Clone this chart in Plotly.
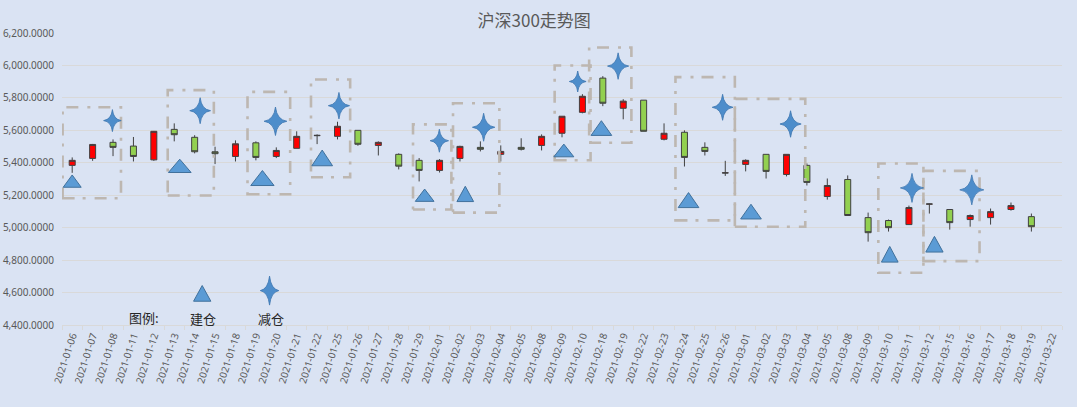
import plotly.graph_objects as go

# ---------------- data ----------------
dates = ["2021-01-06", "2021-01-07", "2021-01-08", "2021-01-11", "2021-01-12", "2021-01-13",
         "2021-01-14", "2021-01-15", "2021-01-18", "2021-01-19", "2021-01-20", "2021-01-21",
         "2021-01-22", "2021-01-25", "2021-01-26", "2021-01-27", "2021-01-28", "2021-01-29",
         "2021-02-01", "2021-02-02", "2021-02-03", "2021-02-04", "2021-02-05", "2021-02-08",
         "2021-02-09", "2021-02-10", "2021-02-18", "2021-02-19", "2021-02-22", "2021-02-23",
         "2021-02-24", "2021-02-25", "2021-02-26", "2021-03-01", "2021-03-02", "2021-03-03",
         "2021-03-04", "2021-03-05", "2021-03-08", "2021-03-09", "2021-03-10", "2021-03-11",
         "2021-03-12", "2021-03-15", "2021-03-16", "2021-03-17", "2021-03-18", "2021-03-19",
         "2021-03-22"]

open_ = [5384, 5427, 5526, 5503, 5418, 5606, 5557, 5468, 5439, 5523, 5439, 5489,
         5567, 5563, 5600, 5507, 5452, 5415, 5353, 5427, 5495, 5452, 5495, 5507,
         5582, 5711, 5922, 5736, 5786, 5545, 5588, 5495, 5337, 5390, 5452, 5328,
         5384, 5192, 5297, 5062, 5044, 5019, 5145, 5112, 5050, 5062, 5112, 5068, None]
high = [5433, 5516, 5544, 5559, 5596, 5643, 5570, 5499, 5538, 5532, 5495, 5594,
        5575, 5653, 5600, 5532, 5458, 5429, 5423, 5505, 5532, 5507, 5551, 5575,
        5687, 5823, 5934, 5792, 5786, 5643, 5600, 5526, 5412, 5421, 5452, 5452,
        5396, 5303, 5322, 5093, 5050, 5136, 5148, 5113, 5081, 5118, 5155, 5087, None]
low = [5338, 5412, 5441, 5408, 5412, 5532, 5458, 5392, 5408, 5415, 5429, 5489,
       5515, 5544, 5505, 5445, 5359, 5285, 5340, 5408, 5470, 5408, 5476, 5476,
       5557, 5705, 5749, 5668, 5594, 5538, 5377, 5445, 5319, 5347, 5303, 5316,
       5260, 5173, 5074, 4914, 4976, 5019, 5087, 4988, 5006, 5019, 5105, 4976, None]
close = [5415, 5513, 5495, 5439, 5594, 5573, 5468, 5456, 5517, 5433, 5476, 5563,
         5569, 5625, 5514, 5526, 5379, 5353, 5415, 5501, 5483, 5470, 5483, 5563,
         5687, 5810, 5767, 5780, 5594, 5582, 5433, 5470, 5338, 5415, 5347, 5452,
         5279, 5260, 5075, 4969, 5000, 5124, 5146, 5031, 5075, 5099, 5136, 5006, None]

# 建仓 (triangle) markers: position (category units) and value
build_x = [0.0, 5.27, 9.32, 12.25, 17.27, 19.26, 24.09, 25.93, 30.2, 33.26, 40.06, 42.25]
build_y = [5287, 5381, 5306, 5430, 5200, 5208, 5476, 5614, 5170, 5099, 4836, 4898]

# 减仓 (star) markers: position and value
reduce_x = [1.97, 6.27, 9.96, 13.07, 17.99, 20.16, 24.77, 26.75, 31.87, 35.2, 41.15, 44.08]
reduce_y = [5660, 5721, 5656, 5752, 5536, 5619, 5901, 5996, 5742, 5639, 5245, 5233]

# dashed group boxes
box_x0 = [-0.47, 4.68, 8.59, 11.7, 16.7, 18.66, 23.64, 25.33, 29.56, 32.47, 39.5, 41.71]
box_x1 = [2.39, 6.94, 10.68, 13.62, 18.58, 20.93, 25.4, 27.4, 32.47, 35.92, 41.71, 44.46]
box_y0 = [5181, 5198, 5206, 5311, 5112, 5093, 5416, 5523, 5045, 5006, 4722, 4794]
box_y1 = [5742, 5848, 5837, 5913, 5637, 5767, 6000, 6111, 5928, 5794, 5396, 5350]

# in-chart legend
legend_labels = ["图例:", "建仓", "减仓"]
legend_label_x = [3.5, 6.39, 9.74]
legend_label_y = [4448, 4440, 4440]
legend_build_xy = (6.37, 4595)
legend_reduce_xy = (9.67, 4612)

title_text = "沪深300走势图"

# ---------------- styles (glyph sizes in px) ----------------
tri_w = [18, 22.7, 23.3, 20.7, 18.7, 16.7, 20, 20.7, 20.7, 20.7, 16.7, 17.3]
tri_h = [12.3, 13.3, 15, 15.7, 12.3, 15.3, 12.7, 14.7, 15, 14.7, 15.7, 15.7]
legend_tri_wh = (17.3, 15.7)
star_h = [22, 26, 28.5, 26.5, 23, 28, 21, 26.5, 26, 26.5, 29, 30]
legend_star_h = 29

xs = list(range(len(dates)))
BG = "#DAE3F3"
TRI_FILL = "#5B9BD5"
TRI_LINE = "#41719C"
STAR_FILL = "#4D8DCB"
STAR_LINE = "#3E76B0"


def star_path(height, aspect=0.8):
    h = height / 2.0
    w = h * aspect
    c = h * 0.1
    return (f"M0,{h:.2f} Q{c:.2f},{c:.2f} {w:.2f},0 Q{c:.2f},{-c:.2f} 0,{-h:.2f} "
            f"Q{-c:.2f},{-c:.2f} {-w:.2f},0 Q{-c:.2f},{c:.2f} 0,{h:.2f} Z")


def tri_path(w, h):
    return f"M{-w/2:.2f},{-h/2:.2f} L{w/2:.2f},{-h/2:.2f} L0,{h/2:.2f} Z"


fig = go.Figure()

fig.add_trace(go.Candlestick(
    x=xs, open=open_, high=high, low=low, close=close,
    increasing=dict(fillcolor="#FF0000", line=dict(color="#404040", width=1)),
    decreasing=dict(fillcolor="#92D050", line=dict(color="#404040", width=1)),
    whiskerwidth=0, showlegend=False, hoverinfo="skip",
))

for x0, x1, y0, y1 in zip(box_x0, box_x1, box_y0, box_y1):
    fig.add_shape(type="rect", xref="x", yref="y", x0=x0, x1=x1, y0=y0, y1=y1,
                  line=dict(color="#BDB7B1", width=2.6, dash="12px,8px,3px,9px"),
                  fillcolor="rgba(0,0,0,0)", layer="above")

tx = build_x + [legend_build_xy[0]]
ty = build_y + [legend_build_xy[1]]
tw = tri_w + [legend_tri_wh[0]]
th = tri_h + [legend_tri_wh[1]]
for px, py, w, h in zip(tx, ty, tw, th):
    fig.add_shape(type="path", xref="x", yref="y", xsizemode="pixel", ysizemode="pixel",
                  xanchor=px, yanchor=py, path=tri_path(w, h),
                  fillcolor=TRI_FILL, line=dict(color=TRI_LINE, width=1), layer="above")

sx_all = reduce_x + [legend_reduce_xy[0]]
sy_all = reduce_y + [legend_reduce_xy[1]]
sh_all = star_h + [legend_star_h]
for i, (sx, sy, sh) in enumerate(zip(sx_all, sy_all, sh_all)):
    aspect = 0.64 if i == len(sx_all) - 1 else 0.8
    fig.add_shape(type="path", xref="x", yref="y", xsizemode="pixel", ysizemode="pixel",
                  xanchor=sx, yanchor=sy, path=star_path(sh, aspect),
                  fillcolor=STAR_FILL, line=dict(color=STAR_LINE, width=0.8), layer="above")

for lx, ly, lt in zip(legend_label_x, legend_label_y, legend_labels):
    fig.add_annotation(x=lx, y=ly, xref="x", yref="y", text=lt, showarrow=False,
                       font=dict(family="Noto Sans CJK SC", size=13, color="#262626"))

fig.update_layout(
    width=1077, height=407,
    margin=dict(l=62, r=15, t=33, b=82, autoexpand=False),
    paper_bgcolor=BG, plot_bgcolor=BG,
    boxgap=0.58,
    title=dict(text=title_text, x=0.496, xanchor="center", y=0.948, yanchor="middle",
               font=dict(family="Noto Sans CJK SC", size=17, color="#595959")),
    font=dict(family="Noto Sans", color="#595959"),
    xaxis=dict(
        range=[-0.5, len(dates) - 0.5], rangeslider=dict(visible=False),
        tickmode="array", tickvals=xs, ticktext=dates, tickangle=-72,
        tickfont=dict(size=10, color="#595959"), ticks="", showgrid=False,
        showline=True, linecolor="#D9D9D9", linewidth=1, zeroline=False,
        minor=dict(ticks="outside", tick0=-0.5, dtick=1, ticklen=4, tickcolor="#D9D9D9",
                   showgrid=False),
    ),
    yaxis=dict(
        range=[4400, 6200], dtick=200, tick0=4400, tickformat=",.4f",
        tickfont=dict(size=10, color="#595959"), showgrid=True, gridcolor="#D9D9D9",
        gridwidth=1, zeroline=False, ticks="outside", ticklen=5, tickcolor="rgba(0,0,0,0)",
    ),
)

fig.write_html("out.html", config={"displayModeBar": False},
               post_script="document.body.style.margin='0';document.body.style.overflow='hidden';")
